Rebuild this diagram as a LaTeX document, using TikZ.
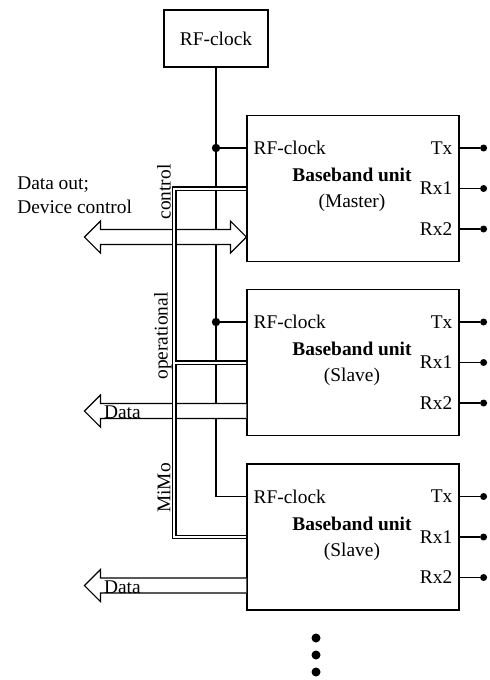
\documentclass[tikz,border=0pt]{standalone}
\usepackage{fontspec}
\setmainfont{Liberation Serif}
\usetikzlibrary{calc, positioning}

\begin{document}
\begin{tikzpicture}[x=0.5pt, y=-0.5pt, line width=0.6pt,
    every node/.style={font=\fontsize{9.7}{12}\selectfont},
    box/.style={draw, minimum width=106pt, minimum height=73pt, inner sep=0pt},
    clkbox/.style={draw, minimum width=52pt, minimum height=28.5pt},
    bus/.style={double, double distance=1pt},
    pin/.style={circle, fill, inner sep=0pt, minimum size=3.5pt},
    bigdot/.style={circle, fill, inner sep=0pt, minimum size=4.2pt}]

    \useasboundingbox (0,0) rectangle (489,680);

    % Basisbandeinheiten mit Anschluessen
    \foreach \b/\yy/\role in {m/188.5/Master, sa/362.5/Slave, sb/537/Slave}{
        \node[box] (\b) at (353,\yy) {};
        \node[align=center] (\b-name) at (352,\yy+1.5) {\textbf{Baseband unit}\\[1pt](\role)};
        \coordinate (\b-in) at ($(\b.west)+(0,-40.5)$);
        \node[anchor=west] (\b-clk) at (\b-in) {RF-clock};
        \foreach \p/\dy in {Tx/-40.5, Rx1/0, Rx2/40.5}{
            \coordinate (\b-\p) at ($(\b.east)+(0,\dy)$);
            \node[anchor=east] at (\b-\p) {\p};
            \node[pin] (\b-\p-pin) at ($(\b-\p)+(24,0)$) {};
            \draw (\b-\p) -- (\b-\p-pin);
        }
    }

    % Taktquelle
    \node[clkbox] (clk) at (216,38.5) {RF-clock};
    \draw (clk.south) -- (clk.south |- sb-in) -- (sb-in);
    \draw (clk.south |- m-in) -- (m-in);
    \draw (clk.south |- sa-in) -- (sa-in);
    \node[bigdot] (jm) at (clk.south |- m-in) {};
    \node[bigdot] (ja) at (clk.south |- sa-in) {};

    % Datenpfeil Master
    \coordinate (m-data) at ($(m.west)+(0,48.5)$);
    \draw[fill=white] (m-data) -- ++(-16,-16) -- ++(0,8.5) -- ++(-130,0) -- ++(0,-8.5)
        -- ++(-16,16) -- ++(16,16) -- ++(0,-8.5) -- ++(130,0) -- ++(0,8.5) -- cycle;
    \node[anchor=west, align=left] (dout) at (10,195) {Data out;\\Device control};

    % Datenpfeile Slaves
    \foreach \b in {sa, sb}{
        \coordinate (\b-data) at ($(\b.west)+(0,48.5)$);
        \draw[fill=white] ($(\b-data)+(0,-7.5)$) -- ++(-146,0) -- ++(0,-8.5) -- ++(-16,16)
            -- ++(16,16) -- ++(0,-8.5) -- ++(146,0);
        \node[anchor=base west, inner sep=0pt] (\b-dlbl) at ($(\b-data)+(-143,7.5)$) {Data};
    }

    % Bus
    \draw[bus] (m.west) -- ++(-72,0) |- (sb.west);
    \draw[bus] (sa.west) -- ++(-71,0);
    \node[rotate=90] (ctl) at (164,192) {control};
    \node[rotate=90] (opl) at (163,336) {operational};
    \node[rotate=90] (mimo) at (164,488) {MiMo};

    % weitere Einheiten
    \foreach \yy [count=\i] in {638,655,672}
        \node[bigdot, minimum size=4.5pt] (more\i) at (316,\yy) {};

\end{tikzpicture}
\end{document}
